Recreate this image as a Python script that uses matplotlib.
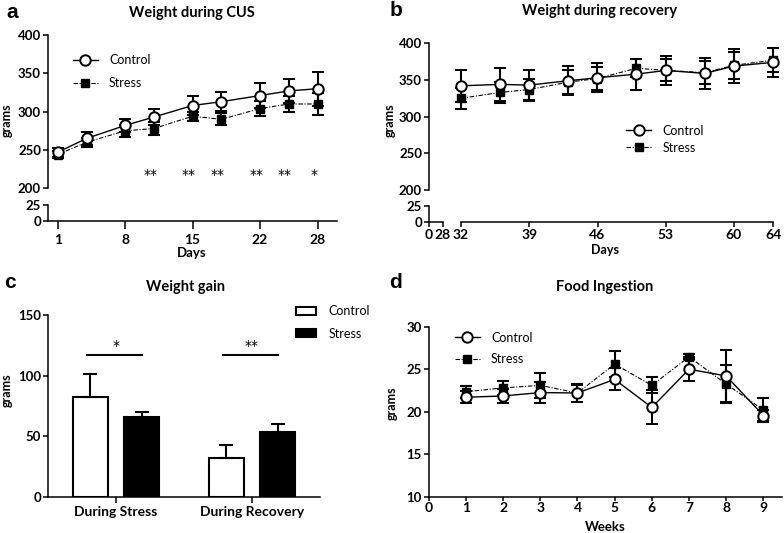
import matplotlib
matplotlib.use("Agg")
import matplotlib.pyplot as plt
from matplotlib.lines import Line2D
from matplotlib.patches import Patch
import numpy as np

plt.rcParams['font.family'] = ['Lato', 'DejaVu Sans']
plt.rcParams['font.size'] = 9
plt.rcParams['axes.linewidth'] = 1.1
plt.rcParams['xtick.major.width'] = 1.1
plt.rcParams['ytick.major.width'] = 1.1
plt.rcParams['xtick.major.size'] = 4
plt.rcParams['ytick.major.size'] = 3.5

# a: weight during CUS
days_cus = [1, 4, 8, 11, 15, 18, 22, 25, 28]
ctrl_cus = [247, 265, 282, 293, 308, 313, 321, 327, 330]
ctrl_cus_err = [6, 9, 8, 11, 12, 12, 16, 16, 22]
str_cus = [244, 260, 275, 278, 294, 290, 304, 310, 310]
str_cus_err = [5, 6, 8, 9, 6, 8, 10, 11, 14]
star_days = [11, 15, 18, 22, 25, 28]
star_text = ['**', '**', '**', '**', '**', '*']

# b: weight during recovery
days_rec = [32, 36, 39, 43, 46, 50, 53, 57, 60, 64]
ctrl_rec = [342, 344, 343, 349, 353, 358, 363, 359, 369, 374]
ctrl_rec_err = [22, 22, 21, 20, 20, 21, 20, 21, 23, 20]
str_rec = [325, 333, 337, 347, 352, 366, 363, 360, 370, 377]
str_rec_err = [14, 14, 14, 16, 16, 12, 15, 16, 18, 16]

# c: weight gain
gain_groups = ['During Stress', 'During Recovery']
gain_ctrl = [82.5, 32]
gain_ctrl_err = [18.5, 11]
gain_str = [65.5, 53]
gain_str_err = [4.6, 7]
gain_sig = ['*', '**']

# d: food ingestion
weeks = [1, 2, 3, 4, 5, 6, 7, 8, 9]
food_ctrl = [21.7, 21.85, 22.25, 22.2, 23.8, 20.5, 25.0, 24.2, 19.55]
food_ctrl_err = [0.7, 0.85, 1.2, 1.0, 1.3, 2.0, 1.4, 3.1, 0.7]
food_str = [22.35, 22.8, 23.1, 22.2, 25.6, 23.1, 26.45, 23.25, 20.2]
food_str_err = [0.7, 0.85, 1.45, 1.1, 1.5, 0.95, 0.3, 2.2, 1.45]

W, H = 784, 533
fig = plt.figure(figsize=(W / 100, H / 100), dpi=100)

TICK = 9.5
DASHDOT = (0, (4, 1.5, 1, 1.5))


def box(x0, y0, x1, y1):
    # pixel box (top-left origin) -> figure fraction rect
    return [x0 / W, 1 - y1 / H, (x1 - x0) / W, (y1 - y0) / H]


def ftext(x, y, s, **kw):
    fig.text(x / W, 1 - y / H, s, **kw)


def clean(ax, left=True, bottom=True, xpad=4, xlen=4):
    for side in ['top', 'right']:
        ax.spines[side].set_visible(False)
    ax.spines['left'].set_visible(left)
    ax.spines['bottom'].set_visible(bottom)
    if not left:
        ax.tick_params(left=False, labelleft=False)
    if not bottom:
        ax.tick_params(bottom=False, labelbottom=False)
    ax.tick_params(axis='y', labelsize=TICK, pad=1.5)
    ax.tick_params(axis='x', labelsize=TICK + 0.5, pad=xpad, length=xlen)
    for lab in ax.get_xticklabels() + ax.get_yticklabels():
        lab.set_fontweight('bold')
    ax.patch.set_alpha(0)


def series(ax, x, c, ce, s, se):
    ax.errorbar(x, s, yerr=se, fmt='s', ls=DASHDOT, lw=0.8, color='black',
                ms=6, mfc='black', mec='black', capsize=4, elinewidth=1.5,
                capthick=1.5, clip_on=False, zorder=3)
    ax.errorbar(x, c, yerr=ce, fmt='o', ls='-', lw=1.0, color='black',
                ms=7.5, mfc='white', mec='black', mew=1.4, capsize=4,
                elinewidth=1.5, capthick=1.5, clip_on=False, zorder=4)


def line_legend(ax, anchor, spacing):
    h = [Line2D([], [], color='black', lw=1.0, marker='o', ms=7.5, mfc='white', mew=1.4),
         Line2D([], [], color='black', lw=0.8, ls=DASHDOT, marker='s', ms=6)]
    ax.legend(h, ['Control', 'Stress'], loc='upper left', bbox_to_anchor=anchor,
              frameon=False, handlelength=2.0, handletextpad=0.9, borderpad=0,
              borderaxespad=0, labelspacing=spacing, fontsize=9)


# ---- panel a ----
a_top = fig.add_axes(box(48, 35, 337, 188.3))
a_bot = fig.add_axes(box(48, 205, 337, 221))
series(a_top, days_cus, ctrl_cus, ctrl_cus_err, str_cus, str_cus_err)
a_top.set_xlim(0, 30)
a_top.set_ylim(200, 400)
a_top.set_yticks([200, 250, 300, 350, 400])
clean(a_top, bottom=False)
a_bot.set_xlim(0, 30)
a_bot.set_ylim(0, 25)
a_bot.set_yticks([0, 25])
a_bot.set_xticks([1, 8, 15, 22, 28])
clean(a_bot, xpad=4, xlen=5.5)
for d, t in zip(star_days, star_text):
    a_top.text(d - 0.4, 217, t, ha='center', va='center', fontsize=10,
               family=['DejaVu Sans'])
line_legend(a_top, (0.086, 0.875), 0.9)

# ---- panel b ----
b_top = fig.add_axes(box(429, 43.3, 773, 190))
b_botl = fig.add_axes(box(429, 205.7, 442.7, 221.7))
b_botr = fig.add_axes(box(461, 205.7, 773, 221.7))
series(b_top, days_rec, ctrl_rec, ctrl_rec_err, str_rec, str_rec_err)
b_top.set_xlim(28.72, 64)
b_top.set_ylim(200, 400)
b_top.set_yticks([200, 250, 300, 350, 400])
clean(b_top, bottom=False)
b_botl.set_xlim(0, 28)
b_botl.set_ylim(0, 25)
b_botl.set_xticks([0, 28])
b_botl.set_yticks([0, 25])
clean(b_botl, xpad=1.5, xlen=3.5)
b_botr.set_xlim(32, 64)
b_botr.set_ylim(0, 25)
b_botr.set_xticks([32, 39, 46, 53, 60, 64])
clean(b_botr, left=False, xpad=1.5, xlen=3.5)
line_legend(b_top, (0.574, 0.445), 0.4)

# ---- panel c ----
c_ax = fig.add_axes(box(48, 315, 320, 496.7))
xg = np.arange(len(gain_groups))
bw = 0.257
c_ax.bar(xg - 0.188, gain_ctrl, bw, color='white', edgecolor='black', lw=1.5,
         yerr=[[0] * 2, gain_ctrl_err], capsize=5,
         error_kw=dict(elinewidth=1.5, capthick=1.5), label='Control')
c_ax.bar(xg + 0.19, gain_str, bw, color='black', edgecolor='black', lw=1.5,
         yerr=[[0] * 2, gain_str_err], capsize=5,
         error_kw=dict(elinewidth=1.5, capthick=1.5), label='Stress')
for i, t in enumerate(gain_sig):
    c_ax.plot([i - 0.21, i + 0.19], [117, 117], color='black', lw=1.5)
    c_ax.text(i, 119, t, ha='center', va='bottom', fontsize=10, family=['DejaVu Sans'])
c_ax.set_xlim(-0.5, 1.5)
c_ax.set_ylim(0, 150)
c_ax.set_yticks([0, 50, 100, 150])
c_ax.set_xticks(xg)
c_ax.set_xticklabels(gain_groups)
clean(c_ax, xpad=3, xlen=4)
ph = [Patch(facecolor='white', edgecolor='black', lw=1.5),
      Patch(facecolor='black', edgecolor='black', lw=1.5)]
c_ax.legend(ph, ['Control', 'Stress'], loc='upper left', bbox_to_anchor=(0.912, 1.055),
            frameon=False, handlelength=1.6, handleheight=0.6, handletextpad=1.0,
            borderpad=0, borderaxespad=0, labelspacing=0.85, fontsize=9)

# ---- panel d ----
d_ax = fig.add_axes(box(428.7, 326.7, 782, 496.7))
series(d_ax, weeks, food_ctrl, food_ctrl_err, food_str, food_str_err)
d_ax.set_xlim(0, 9.5)
d_ax.set_ylim(10, 30)
d_ax.set_xticks(range(0, 10))
d_ax.set_yticks([10, 15, 20, 25, 30])
clean(d_ax, xpad=0.5, xlen=3)
line_legend(d_ax, (0.074, 0.97), 0.75)

# ---- titles and labels ----
for x, y, s in [(12, 12, 'a'), (396, 10, 'b'), (10, 282, 'c'), (396, 282, 'd')]:
    ftext(x, y, s, fontsize=15, fontweight='bold', family=['Liberation Sans', 'DejaVu Sans'],
          ha='center', va='center')
ftext(192, 13, 'Weight during CUS', fontsize=10.5, fontweight='bold', ha='center', va='center')
ftext(600, 11, 'Weight during recovery', fontsize=10.5, fontweight='bold', ha='center', va='center')
ftext(185, 287, 'Weight gain', fontsize=10.5, fontweight='bold', ha='center', va='center')
ftext(605, 287, 'Food Ingestion', fontsize=10.5, fontweight='bold', ha='center', va='center')
ftext(192, 253, 'Days', fontsize=9.5, fontweight='bold', ha='center', va='center')
ftext(605, 250, 'Days', fontsize=9, fontweight='bold', ha='center', va='center')
ftext(605, 527, 'Weeks', fontsize=9.5, fontweight='bold', ha='center', va='center')
for x, y in [(7, 120), (390, 120), (7, 390), (392, 403)]:
    ftext(x, y, 'grams', fontsize=9, fontweight='bold', rotation=90, ha='center', va='center')

fig.savefig('out.png', dpi=100)
